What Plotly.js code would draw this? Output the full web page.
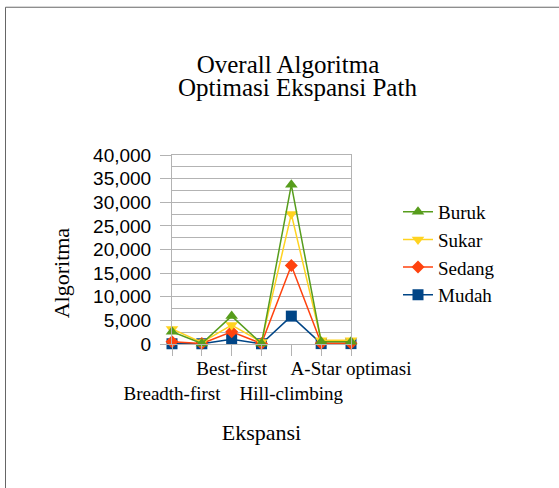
<!DOCTYPE html>
<html>
<head>
<meta charset="utf-8">
<script src="https://cdn.plot.ly/plotly-3.0.1.min.js"></script>
<style>
html,body{margin:0;padding:0;background:#fff;}
#chart{width:559px;height:488px;}
</style>
</head>
<body>
<div id="chart"></div>
<script>
// Category positions and labels (labels that the original chart hid are blank)
const categoryIndex = [1, 2, 3, 4, 5, 6, 7];
const categoryLabels = ["Breadth-first", "", "Best-first", "", "Hill-climbing", "", "A-Star optimasi"];
const labelRow = [2, 1, 1, 1, 2, 1, 1]; // staggered label rows

// Series values
const buruk  = [2600, 100, 5900, 100, 33700, 500, 500];
const sukar  = [3200, 350, 4000, 400, 27500, 800, 800];
const sedang = [450, 100, 2600, 100, 16600, 150, 150];
const mudah  = [50, 50, 1000, 50, 5900, 80, 80];

const seriesNames = ["Mudah", "Sedang", "Sukar", "Buruk"];
const seriesValues = [mudah, sedang, sukar, buruk];
const seriesColors = ["#004586", "#ff420e", "#ffd320", "#579d1c"];
const seriesSymbols = ["square", "diamond", "triangle-down", "triangle-up"];
const seriesSizes = [11, 10, 11, 11];

const traces = seriesNames.map((n, i) => ({
  type: "scatter",
  mode: "lines+markers",
  name: n,
  x: categoryIndex,
  y: seriesValues[i],
  line: {color: seriesColors[i], width: 1.5},
  marker: {color: seriesColors[i], symbol: seriesSymbols[i], size: seriesSizes[i]},
  cliponaxis: false
}));

const tickText = categoryLabels.map((t, i) => labelRow[i] === 2 ? " <br>" + t : t);

const L = 172, R = 351, T = 155, B = 344.3;
const px = v => (v - L) / (R - L);
const py = v => (B - v) / (B - T);

const serif = "Liberation Serif";
const grid = "#b3b3b3";

const layout = {
  width: 559, height: 488,
  margin: {l: L, r: 559 - R, t: T, b: 488 - B, pad: 0},
  paper_bgcolor: "#ffffff",
  plot_bgcolor: "#ffffff",
  font: {family: serif, color: "#000"},
  showlegend: true,
  title: {
    text: "Overall Algoritma",
    font: {family: serif, size: 25, color: "#000"},
    x: 288 / 559, xanchor: "center", xref: "container",
    y: 1 - 64 / 488, yanchor: "middle", yref: "container"
  },
  xaxis: {
    range: [1, 7],
    tickmode: "array",
    tickvals: categoryIndex,
    ticktext: tickText,
    tickangle: 0,
    ticks: "outside", ticklen: 11, tickcolor: grid, tickwidth: 1,
    showgrid: false, zeroline: false,
    showline: true, linecolor: grid, linewidth: 1, mirror: true,
    tickfont: {family: serif, size: 19, color: "#000"},
    ticklabelstandoff: -4,
    title: {text: "Ekspansi", font: {family: serif, size: 22, color: "#000"}, standoff: 22}
  },
  yaxis: {
    range: [0, 40000],
    dtick: 5000,
    tickformat: ",d",
    ticks: "outside", ticklen: 11, tickcolor: grid, tickwidth: 1,
    showgrid: true, gridcolor: grid, gridwidth: 1,
    minor: {dtick: 2500, showgrid: true, gridcolor: grid, gridwidth: 1},
    zeroline: false,
    showline: true, linecolor: grid, linewidth: 1, mirror: true,
    tickfont: {family: "Liberation Sans", size: 19, color: "#000"},
    ticklabelstandoff: 5
  },
  legend: {
    x: px(398), xanchor: "left",
    y: py(253.5), yanchor: "middle",
    traceorder: "reversed",
    font: {family: serif, size: 19, color: "#000"},
    bgcolor: "rgba(0,0,0,0)",
    itemwidth: 30,
    tracegroupgap: 0
  },
  annotations: [
    {
      text: "Optimasi Ekspansi Path", showarrow: false,
      xref: "paper", yref: "paper",
      x: px(297), y: py(87), xanchor: "center", yanchor: "middle",
      font: {family: serif, size: 25, color: "#000"}
    },
    {
      text: "Algoritma", showarrow: false, textangle: -90,
      xref: "paper", yref: "paper",
      x: px(61), y: py(273.5), xanchor: "center", yanchor: "middle",
      font: {family: serif, size: 22, color: "#000"}
    }
  ],
  shapes: [
    {type: "line", xref: "paper", yref: "paper", x0: px(5.5), x1: px(5.5), y0: py(7), y1: py(495),
     line: {color: "#666", width: 1}},
    {type: "line", xref: "paper", yref: "paper", x0: px(5.5), x1: px(565), y0: py(7), y1: py(7),
     line: {color: "#666", width: 1}}
  ]
};

Plotly.newPlot("chart", traces, layout, {displayModeBar: false, staticPlot: true});
</script>
</body>
</html>
